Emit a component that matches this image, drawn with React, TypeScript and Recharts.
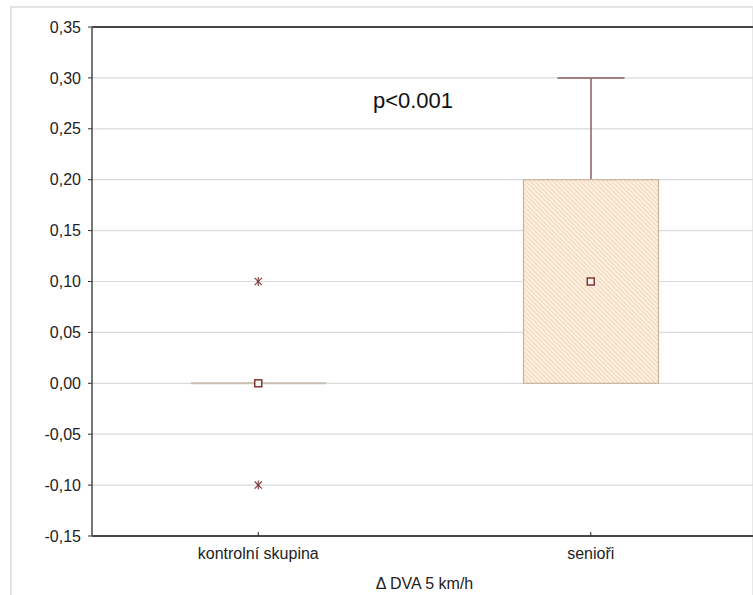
import React from "react";
import {
  ComposedChart,
  Bar,
  Scatter,
  XAxis,
  YAxis,
  CartesianGrid,
  ReferenceLine,
} from "recharts";

const categories = ["kontrolní skupina", "senioři"];
const q1Values = [0, 0];
const q3Values = [0, 0.2];
const medianValues = [0, 0.1];
const minValues = [0, 0];
const maxValues = [0, 0.3];
const outlierCategories = ["kontrolní skupina", "kontrolní skupina"];
const outlierValues = [0.1, -0.1];
const yTicks = [-0.15, -0.1, -0.05, 0, 0.05, 0.1, 0.15, 0.2, 0.25, 0.3, 0.35];
const xAxisTitle = "Δ DVA 5 km/h";
const annotation = "p<0.001";

const data = categories.map((c, i) => ({
  cat: c,
  box: [q1Values[i], q3Values[i]],
  upper: [q3Values[i], maxValues[i]],
  lower: [minValues[i], q1Values[i]],
  median: medianValues[i],
}));

const outliers = outlierCategories.map((c, i) => ({ cat: c, value: outlierValues[i] }));

const FONT = "'Liberation Sans', Arial, sans-serif";

const norm = (p: any) => {
  const top = Math.min(p.y, p.y + p.height);
  const h = Math.abs(p.height);
  return { x: p.x, w: p.width, top, h };
};

const BoxShape = (p: any) => {
  const { x, w, top, h } = norm(p);
  if (h < 0.5) {
    return <line x1={x} x2={x + w} y1={top} y2={top} stroke="#c9beb1" strokeWidth={2} />;
  }
  return (
    <rect x={x} y={top} width={w} height={h} fill="url(#hatch)" stroke="#c8b49e" strokeWidth={1.2} />
  );
};

const UpperWhisker = (p: any) => {
  const { x, w, top, h } = norm(p);
  if (h < 0.5) return <g />;
  const cx = x + w / 2;
  return (
    <g stroke="#8e5c5c" strokeWidth={1.5}>
      <line x1={cx} x2={cx} y1={top} y2={top + h} />
      <line x1={x} x2={x + w} y1={top} y2={top} />
    </g>
  );
};

const LowerWhisker = (p: any) => {
  const { x, w, top, h } = norm(p);
  if (h < 0.5) return <g />;
  const cx = x + w / 2;
  return (
    <g stroke="#8e5c5c" strokeWidth={1.5}>
      <line x1={cx} x2={cx} y1={top} y2={top + h} />
      <line x1={x} x2={x + w} y1={top + h} y2={top + h} />
    </g>
  );
};

const MedianShape = (p: any) => (
  <rect x={p.cx - 3.5} y={p.cy - 3.5} width={7} height={7} fill="#f6f2ee" stroke="#7b2b2b" strokeWidth={1.4} />
);

const StarShape = (p: any) => {
  const r = 4.5;
  const d = r * 0.8;
  return (
    <g stroke="#7b3535" strokeWidth={1.1}>
      <line x1={p.cx} x2={p.cx} y1={p.cy - r} y2={p.cy + r} />
      <line x1={p.cx - d} x2={p.cx + d} y1={p.cy - d} y2={p.cy + d} />
      <line x1={p.cx - d} x2={p.cx + d} y1={p.cy + d} y2={p.cy - d} />
    </g>
  );
};

const XTick = (p: any) => {
  const { x, y, payload } = p;
  return (
    <g>
      <line x1={x} x2={x} y1={y} y2={y - 4} stroke="#222" strokeWidth={1} />
      <text x={x} y={y + 23} textAnchor="middle" fontSize={16} fontFamily={FONT} fill="#222">
        {payload.value}
      </text>
    </g>
  );
};

const fmt = (v: number) => v.toFixed(2).replace(".", ",");

export default function App() {
  return (
    <div style={{ position: "absolute", left: 0, top: 0, width: 753, height: 595, overflow: "hidden", background: "#fff" }}>
      <div
        style={{
          position: "absolute",
          left: 10,
          top: 6,
          width: 740,
          height: 700,
          borderLeft: "2px solid #e4e4e4",
          borderTop: "2px solid #e4e4e4",
          borderRight: "1px solid #e8e8e8",
        }}
      />
      <div style={{ position: "absolute", left: 0, top: 0 }}>
        <ComposedChart width={757} height={595} data={data} margin={{ top: 27, right: 0, bottom: 0, left: 0 }}>
          <defs>
            <pattern id="hatch" patternUnits="userSpaceOnUse" width={3.2} height={3.2} patternTransform="rotate(-45)">
              <rect x={0} y={0} width={3.2} height={3.2} fill="#fcefe0" />
              <line x1={0} y1={0} x2={0} y2={3.2} stroke="#eccaa6" strokeWidth={1.3} />
            </pattern>
          </defs>
          <CartesianGrid vertical={false} stroke="#dadada" strokeWidth={1.2} />
          <XAxis
            xAxisId="main"
            dataKey="cat"
            type="category"
            allowDuplicatedCategory={false}
            height={59}
            tickSize={0}
            tickMargin={0}
            tickLine={false}
            axisLine={{ stroke: "#111", strokeWidth: 1.5 }}
            tick={<XTick />}
            label={{
              content: (props: any) => {
                const vb = props.viewBox || {};
                return (
                  <text x={vb.x + vb.width / 2} y={vb.y + 53} textAnchor="middle" fontSize={16} fontFamily={FONT} fill="#222">
                    {xAxisTitle}
                  </text>
                );
              },
            }}
          />
          <XAxis xAxisId="wu" dataKey="cat" type="category" allowDuplicatedCategory={false} hide />
          <XAxis xAxisId="wl" dataKey="cat" type="category" allowDuplicatedCategory={false} hide />
          <YAxis
            type="number"
            domain={[-0.15, 0.35]}
            ticks={yTicks}
            interval={0}
            width={92}
            tickSize={4}
            tickMargin={7}
            tickFormatter={fmt}
            tick={{ fontSize: 16, fontFamily: FONT, fill: "#222" }}
            tickLine={{ stroke: "#333" }}
            axisLine={{ stroke: "#555", strokeWidth: 1.6 }}
            allowDataOverflow
          />
          <ReferenceLine y={0.35} xAxisId="main" stroke="#111" strokeWidth={1.5} />
          <Bar xAxisId="wu" dataKey="upper" barSize={67} shape={<UpperWhisker />} isAnimationActive={false} />
          <Bar xAxisId="wl" dataKey="lower" barSize={67} shape={<LowerWhisker />} isAnimationActive={false} />
          <Bar xAxisId="main" dataKey="box" barSize={135} shape={<BoxShape />} isAnimationActive={false} />
          <Scatter xAxisId="main" dataKey="median" shape={<MedianShape />} isAnimationActive={false} />
          <Scatter xAxisId="main" data={outliers} dataKey="value" shape={<StarShape />} isAnimationActive={false} />
        </ComposedChart>
      </div>
      <div
        style={{
          position: "absolute",
          left: 313,
          top: 86,
          width: 200,
          textAlign: "center",
          fontFamily: FONT,
          fontSize: 22,
          lineHeight: "30px",
          color: "#111",
        }}
      >
        {annotation}
      </div>
    </div>
  );
}
